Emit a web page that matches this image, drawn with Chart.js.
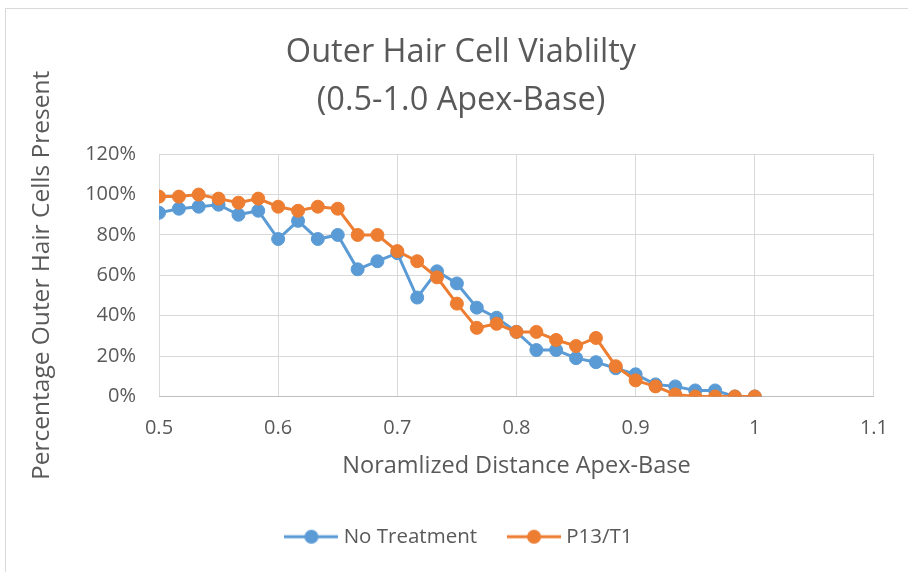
<!DOCTYPE html>
<html>
<head>
    <meta charset="UTF-8">
    <title>Outer Hair Cell Viablilty</title>
    <script src="https://cdn.jsdelivr.net/npm/chart.js"></script>
    <style>
        html, body {
            margin: 0;
            padding: 0;
            background: #ffffff;
            overflow: hidden;
        }
        .frame {
            position: absolute;
            left: 5px;
            top: 8px;
            width: 1000px;
            height: 1000px;
            border: 1px solid #d9d9d9;
        }
        #ohcChart {
            position: absolute;
            left: 0;
            top: 0;
        }
    </style>
</head>
<body>
    <div class="frame"></div>
    <canvas id="ohcChart" width="908" height="572"></canvas>

    <script>
        // 資料
        const distance = [0.5, 0.5167, 0.5333, 0.55, 0.5667, 0.5833, 0.6, 0.6167, 0.6333, 0.65,
                          0.6667, 0.6833, 0.7, 0.7167, 0.7333, 0.75, 0.7667, 0.7833, 0.8, 0.8167,
                          0.8333, 0.85, 0.8667, 0.8833, 0.9, 0.9167, 0.9333, 0.95, 0.9667, 0.9833, 1.0];
        const noTreatment = [91, 93, 94, 95, 90, 92, 78, 87, 78, 80,
                             63, 67, 71, 49, 62, 56, 44, 39, 32, 23,
                             23, 19, 17, 14, 11, 6, 5, 3, 3, 0, 0];
        const p13t1 = [99, 99, 100, 98, 96, 98, 94, 92, 94, 93,
                       80, 80, 72, 67, 59, 46, 34, 36, 32, 32,
                       28, 25, 29, 15, 8, 5, 1, 0, 0, 0, 0];
        const xTickLabels = ['0.5', '0.6', '0.7', '0.8', '0.9', '1', '1.1'];
        const yTickLabels = ['0%', '20%', '40%', '60%', '80%', '100%', '120%'];

        const blue = '#5b9bd5';
        const orange = '#ed7d31';
        const textGrey = '#595959';
        const gridGrey = '#d9d9d9';

        Chart.defaults.font.family = '"Open Sans", sans-serif';
        Chart.defaults.color = textGrey;

        // 圖例圖示：線段加圓點（比圖例框略寬）
        function legendIcon(color) {
            const c = document.createElement('canvas');
            c.width = 54;
            c.height = 18;
            const g = c.getContext('2d');
            g.strokeStyle = color;
            g.lineWidth = 3;
            g.beginPath();
            g.moveTo(0, 9);
            g.lineTo(54, 9);
            g.stroke();
            g.fillStyle = color;
            g.beginPath();
            g.arc(27, 9, 7, 0, Math.PI * 2);
            g.fill();
            return c;
        }

        function toPoints(values) {
            return distance.map((d, i) => ({ x: d, y: values[i] }));
        }

        const ctx = document.getElementById('ohcChart').getContext('2d');

        new Chart(ctx, {
            type: 'scatter',
            data: {
                datasets: [
                    {
                        label: 'No Treatment',
                        data: toPoints(noTreatment),
                        showLine: true,
                        borderColor: blue,
                        backgroundColor: blue,
                        borderWidth: 3,
                        pointRadius: 6.5,
                        pointBorderWidth: 1,
                        pointBackgroundColor: blue,
                        pointBorderColor: blue,
                        order: 1
                    },
                    {
                        label: 'P13/T1',
                        data: toPoints(p13t1),
                        showLine: true,
                        borderColor: orange,
                        backgroundColor: orange,
                        borderWidth: 3,
                        pointRadius: 6.5,
                        pointBorderWidth: 1,
                        pointBackgroundColor: orange,
                        pointBorderColor: orange,
                        order: 0
                    }
                ]
            },
            options: {
                responsive: false,
                animation: false,
                layout: {
                    padding: { left: 14, right: 0, top: 0, bottom: 15 }
                },
                plugins: {
                    title: {
                        display: true,
                        text: ['Outer Hair Cell Viablilty', '(0.5-1.0 Apex-Base)'],
                        color: textGrey,
                        font: { size: 32.5, weight: 'normal', lineHeight: 1.48 },
                        padding: { top: 29, bottom: 29 }
                    },
                    legend: {
                        position: 'bottom',
                        labels: {
                            usePointStyle: true,
                            pointStyleWidth: 44,
                            padding: 35,
                            color: textGrey,
                            font: { size: 20.5 },
                            generateLabels: function(chart) {
                                return chart.data.datasets.map((ds, i) => ({
                                    text: ds.label,
                                    fillStyle: ds.borderColor,
                                    strokeStyle: ds.borderColor,
                                    lineWidth: 0,
                                    pointStyle: legendIcon(ds.borderColor),
                                    fontColor: textGrey,
                                    hidden: false,
                                    datasetIndex: i
                                }));
                            }
                        }
                    },
                    tooltip: { enabled: false }
                },
                scales: {
                    x: {
                        type: 'linear',
                        min: 0.5,
                        max: 1.1,
                        ticks: {
                            stepSize: 0.1,
                            padding: 20,
                            font: { size: 20 },
                            callback: (v, i) => xTickLabels[i]
                        },
                        grid: { color: gridGrey, drawTicks: false },
                        border: { color: '#bfbfbf' },
                        title: {
                            display: true,
                            text: 'Noramlized Distance Apex-Base',
                            font: { size: 23.5 },
                            padding: { top: 0, bottom: 11 }
                        },
                        afterFit: function(scale) { scale.height = 95; }
                    },
                    y: {
                        min: 0,
                        max: 120,
                        ticks: {
                            stepSize: 20,
                            padding: 23,
                            font: { size: 20 },
                            callback: (v, i) => yTickLabels[i]
                        },
                        grid: { color: gridGrey, drawTicks: false },
                        border: { display: false },
                        title: {
                            display: true,
                            text: 'Percentage Outer Hair Cells Present',
                            font: { size: 24.5 },
                            padding: { top: 13, bottom: 0 }
                        },
                        afterFit: function(scale) { scale.width = 145; }
                    },
                    spacer: {
                        position: 'right',
                        display: true,
                        ticks: { display: false },
                        grid: { display: false },
                        border: { display: false },
                        afterFit: function(scale) { scale.width = 32; }
                    }
                }
            }
        });
    </script>
</body>
</html>
